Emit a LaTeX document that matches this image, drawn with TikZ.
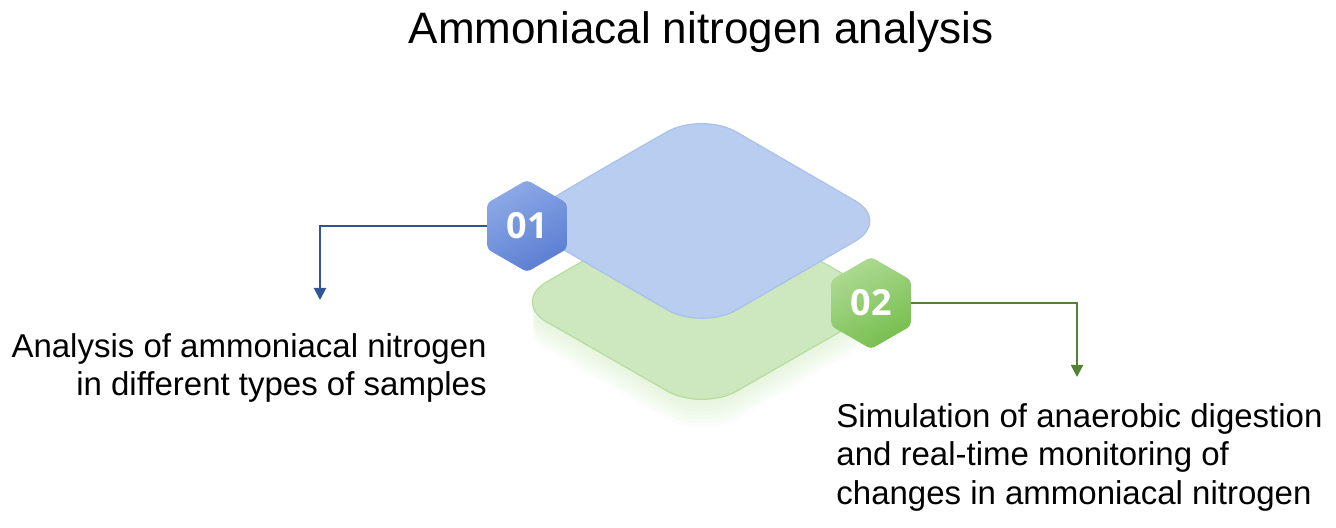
\documentclass[tikz,border=0pt]{standalone}
\usepackage{fontspec}
\setmainfont{Liberation Sans}
\newfontfamily\numfont{Open Sans}
\usetikzlibrary{arrows.meta, shapes.geometric, positioning}

\definecolor{plateblue}{HTML}{B8CDEF}
\definecolor{plateblueedge}{HTML}{A9C0EA}
\definecolor{plategreen}{HTML}{CDE8BE}
\definecolor{plategreenedge}{HTML}{B5DC9C}
\definecolor{glowgreen}{HTML}{D6EEC8}
\definecolor{hexblueA}{HTML}{8DA9E6}
\definecolor{hexblueB}{HTML}{5A7ED2}
\definecolor{hexgreenA}{HTML}{AEDA93}
\definecolor{hexgreenB}{HTML}{76BE4E}
\definecolor{lineblue}{HTML}{2F5597}
\definecolor{linegreen}{HTML}{548235}

\begin{document}
\begin{tikzpicture}[% one unit = one pixel of the layout
          x = 0.5pt, y = -0.5pt,
          > = {Triangle[length=6pt, width=6pt]},
hexa/.style = {regular polygon, regular polygon sides=6,
               shape border rotate=30, minimum size=46pt,
               inner sep=0pt, outer sep=0pt, rounded corners=2pt,
               text=white, font=\numfont\bfseries\fontsize{18}{20}\selectfont},
plate/.style = {rounded corners=20pt, line width=0.6pt},
desc/.style = {inner sep=0pt, font=\fontsize{16.5}{19.3}\selectfont},
link/.style = {->, line width=1pt}
                        ]
	\useasboundingbox (0,0) rectangle (1336,528);

	% title
	\node[anchor=base, font=\fontsize{22}{26}\selectfont] (title) at (701,44)
	     {Ammoniacal nitrogen analysis};

	% glow under the lower plate
	\foreach \d in {4,8,...,28}
	  \fill[glowgreen, opacity=0.11, rounded corners=20pt, shift={(0,\d)}]
	       (607,247) -- (702,193) -- (892,302) -- (702,411) -- (512,302) -- cycle;

	% lower plate
	\draw[plate, fill=plategreen, draw=plategreenedge]
	     (607,247) -- (702,193) -- (892,302) -- (702,411) -- (512,302) -- cycle;

	% upper plate
	\draw[plate, fill=plateblue, draw=plateblueedge]
	     (607,166) -- (702,112) -- (890,221) -- (702,330) -- (514,221) -- cycle;

	% badges
	\node[hexa, top color=hexblueA, bottom color=hexblueB, shading angle=30]
	     (h1) at (527,226) {01};
	\node[hexa, top color=hexgreenA, bottom color=hexgreenB, shading angle=30]
	     (h2) at (871,303) {02};

	% descriptions
	\node[desc, anchor=north east, align=right] (t1) at (487,333)
	     {Analysis of ammoniacal nitrogen\\in different types of samples};
	\node[desc, anchor=north west, align=left] (t2) at (836,403)
	     {Simulation of anaerobic digestion\\and real-time monitoring of\\changes in ammoniacal nitrogen};

	% connectors
	\coordinate (a1) at (320,300);
	\coordinate (a2) at (1077,377);
	\draw[link, lineblue] (h1.west) -| (a1);
	\draw[link, linegreen] (h2.east) -| (a2);
\end{tikzpicture}
\end{document}
